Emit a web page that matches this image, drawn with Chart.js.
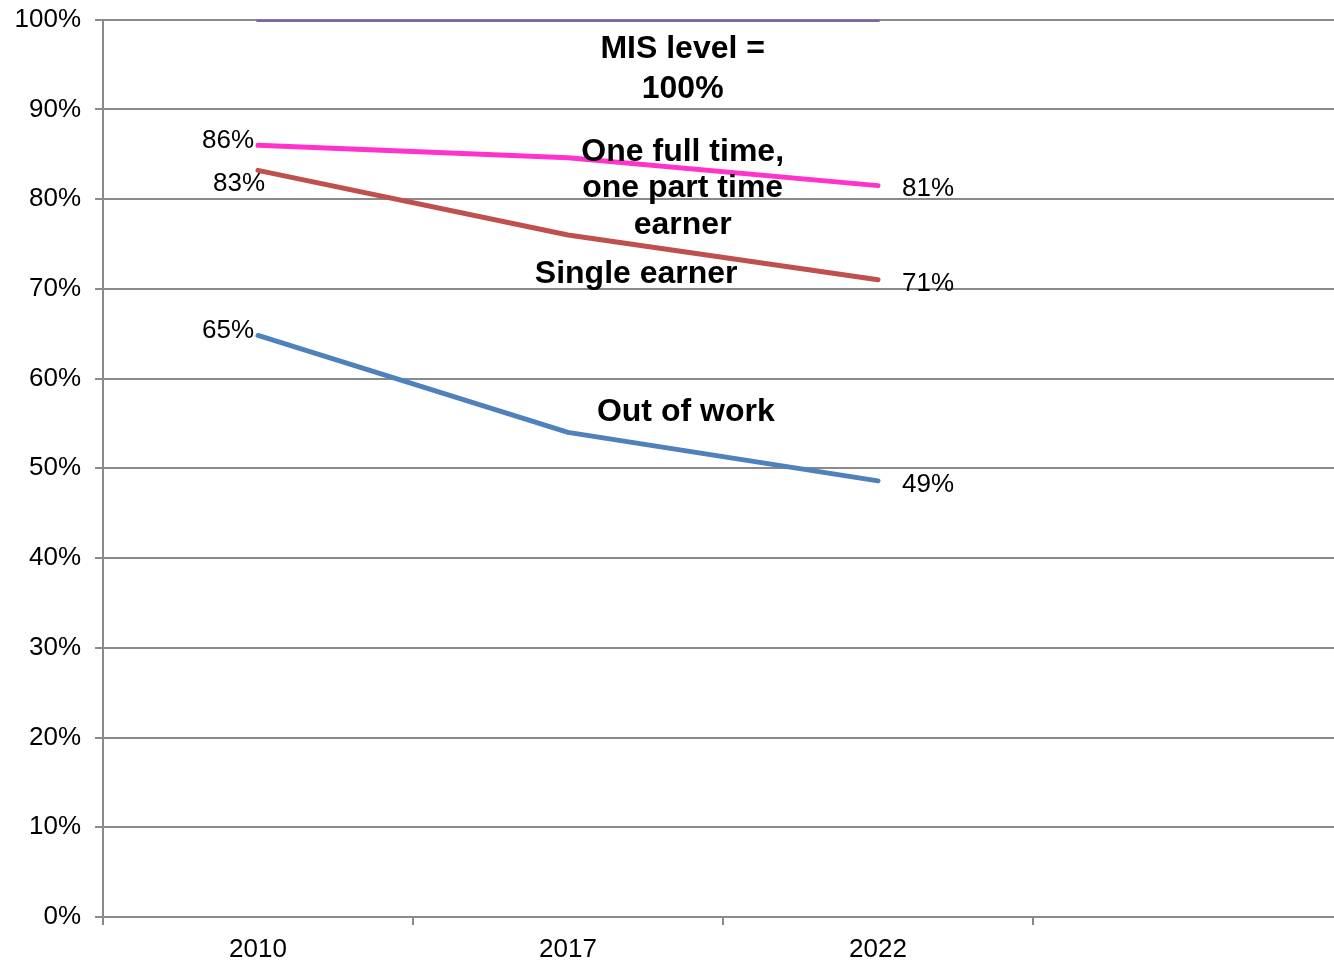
<!DOCTYPE html>
<html>
<head>
<meta charset="utf-8">
<script src="https://cdn.jsdelivr.net/npm/chart.js@4/dist/chart.umd.min.js"></script>
<style>
  html, body { margin: 0; padding: 0; background: #fff; overflow: hidden; }
  #wrap { position: absolute; left: 0; top: -10px; width: 1345px; height: 970px; }
</style>
</head>
<body>
<div id="wrap"><canvas id="chart" width="1345" height="970"></canvas></div>
<script>
// categories (4th slot is empty in the original)
const years = ['2010', '2017', '2022', ''];

// series values, % of MIS
const misLevel   = [100, 100, 100];
const fullPart   = [86, 84.6, 81.5];
const single     = [83.2, 76, 71];
const outOfWork  = [64.8, 54, 48.6];

const yTicks = [0, 10, 20, 30, 40, 50, 60, 70, 80, 90, 100];

// value labels shown at the ends: [index, text]
const fullPartLabels  = [[0, '86%'], [2, '81%']];
const singleLabels    = [[0, '83%'], [2, '71%']];
const outOfWorkLabels = [[0, '65%'], [2, '49%']];

// bold annotation text: [category index, value, text]
const notes = [
  [1.37, 96.7, 'MIS level ='],
  [1.37, 92.3, '100%'],
  [1.37, 85.2, 'One full time,'],
  [1.37, 81.2, 'one part time'],
  [1.37, 77.1, 'earner'],
  [1.22, 71.6, 'Single earner'],
  [1.38, 56.3, 'Out of work'],
];

const FONT = '"Liberation Sans", Arial, sans-serif';
const GRID = '#8a8a8a';

// label placement per point: [dx, dy, align]
const labelPlace = {
  fullPart:  { 0: [-4, -4, 'right'], 2: [24, 3, 'left'] },
  single:    { 0: [7, 13, 'right'],  2: [24, 4, 'left'] },
  outOfWork: { 0: [-4, -5, 'right'], 2: [24, 4, 'left'] },
};

const textPlugin = {
  id: 'textPlugin',
  afterDatasetsDraw(chart) {
    const { ctx, scales: { x, y } } = chart;
    ctx.save();
    ctx.fillStyle = '#000';
    ctx.textBaseline = 'middle';

    // point value labels
    ctx.font = '26px ' + FONT;
    const sets = [
      ['fullPart', 1, fullPartLabels],
      ['single', 2, singleLabels],
      ['outOfWork', 3, outOfWorkLabels],
    ];
    sets.forEach(([key, dsIndex, labels]) => {
      const meta = chart.getDatasetMeta(dsIndex);
      labels.forEach(([i, txt]) => {
        const pt = meta.data[i];
        const [dx, dy, align] = labelPlace[key][i];
        ctx.textAlign = align;
        ctx.fillText(txt, pt.x + dx, pt.y + dy);
      });
    });

    // bold notes
    ctx.font = 'bold 32px ' + FONT;
    ctx.textAlign = 'center';
    notes.forEach(([xi, v, txt]) => {
      ctx.fillText(txt, x.getPixelForValue(xi), y.getPixelForValue(v));
    });
    ctx.restore();
  }
};

const lineStyle = (color) => ({
  borderColor: color,
  backgroundColor: color,
  borderWidth: 5,
  pointRadius: 0,
  tension: 0,
  borderCapStyle: 'round',
  borderJoinStyle: 'round',
  fill: false,
});

new Chart(document.getElementById('chart'), {
  type: 'line',
  data: {
    labels: years,
    datasets: [
      { label: 'MIS level', data: misLevel, ...lineStyle('#8064A2') },
      { label: 'One full time, one part time earner', data: fullPart, ...lineStyle('#FF33CC') },
      { label: 'Single earner', data: single, ...lineStyle('#C0504D') },
      { label: 'Out of work', data: outOfWork, ...lineStyle('#4F81BD') },
    ]
  },
  options: {
    responsive: false,
    animation: false,
    layout: { padding: { top: 12, right: 2, left: 0, bottom: 0 } },
    plugins: {
      legend: { display: false },
      tooltip: { enabled: false },
    },
    scales: {
      x: {
        offset: true,
        grid: {
          offset: true,
          drawOnChartArea: false,
          drawTicks: true,
          tickLength: 8,
          color: GRID,
          lineWidth: 2,
        },
        border: { color: GRID, width: 2 },
        ticks: {
          color: '#000',
          font: { family: FONT, size: 26 },
          padding: 9,
          maxRotation: 0,
          autoSkip: false,
        },
        afterFit: (s) => { s.height = 43; },
      },
      y: {
        min: 0,
        max: 100,
        afterBuildTicks: (s) => { s.ticks = yTicks.map(v => ({ value: v })); },
        grid: {
          color: GRID,
          lineWidth: 2,
          drawTicks: true,
          tickLength: 8,
        },
        border: { color: GRID, width: 2 },
        ticks: {
          color: '#000',
          font: { family: FONT, size: 26 },
          padding: 14,
          callback: v => v + '%',
        },
        afterFit: (s) => { s.width = 103; },
      }
    }
  },
  plugins: [textPlugin]
});
</script>
</body>
</html>
